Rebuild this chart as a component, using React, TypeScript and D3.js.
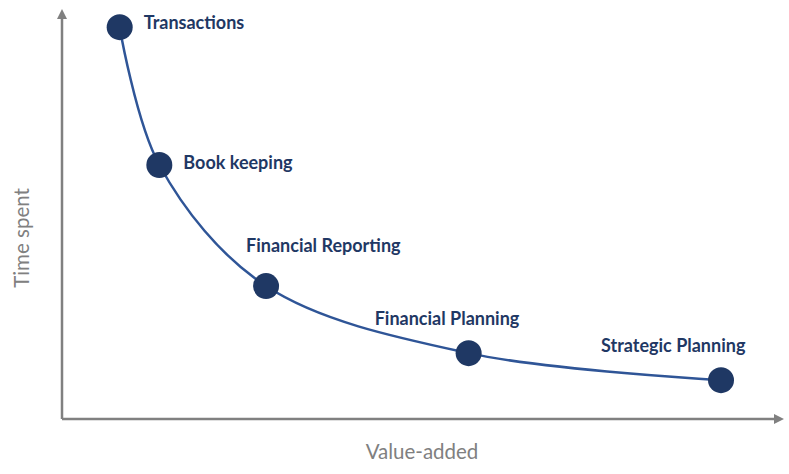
import React from "react";
import * as d3 from "d3";

const stages = ["Transactions", "Book keeping", "Financial Reporting", "Financial Planning", "Strategic Planning"];
const valueAdded = [8.0, 13.5, 28.3, 56.4, 91.4];
const timeSpent = [95.8, 62.1, 32.5, 16.1, 9.5];
const labelDx = [24, 24, -20, -94, -120];
const labelDy = [-5, -3, -41, -35, -35];

const W = 789;
const H = 474;

export default function App() {
  const x = d3.scaleLinear().domain([0, 100]).range([62, 783]);
  const y = d3.scaleLinear().domain([0, 100]).range([419, 10]);
  const pts = valueAdded.map((v, i) => [x(v), y(timeSpent[i])] as [number, number]);
  const line = d3.line().curve(d3.curveCatmullRom.alpha(0.5));
  const axisColor = "#808080";
  const dark = "#1f3864";
  return (
    <svg width={W} height={H} style={{ position: "absolute", left: 0, top: 0 }}>
      <rect width={W} height={H} fill="#fff" />
      {/* axes */}
      <line x1={x(0)} y1={y(0)} x2={x(0)} y2={y(100) + 6} stroke={axisColor} strokeWidth={2.5} />
      <path d={`M${x(0) - 5},${y(100) + 9} L${x(0)},${y(100) - 1} L${x(0) + 5},${y(100) + 9} Z`} fill={axisColor} />
      <line x1={x(0)} y1={y(0)} x2={x(100) - 6} y2={y(0)} stroke={axisColor} strokeWidth={2.5} />
      <path d={`M${x(100) - 9},${y(0) - 5} L${x(100) + 1},${y(0)} L${x(100) - 9},${y(0) + 5} Z`} fill={axisColor} />
      <text x={422} y={451} textAnchor="middle" dominantBaseline="central" fill={axisColor}
        style={{ fontFamily: "Lato, 'Open Sans', sans-serif", fontSize: 20.5 }}>Value-added</text>
      <text transform="translate(21,238) rotate(-90)" textAnchor="middle" dominantBaseline="central" fill={axisColor}
        style={{ fontFamily: "Lato, 'Open Sans', sans-serif", fontSize: 20.5 }}>Time spent</text>
      {/* curve */}
      <path d={line(pts) || ""} fill="none" stroke="#2f5597" strokeWidth={2.5} />
      {pts.map((p, i) => (
        <g key={i}>
          <circle cx={p[0]} cy={p[1]} r={13} fill={dark} />
          <text x={p[0] + labelDx[i]} y={p[1] + labelDy[i]} dominantBaseline="central" fill={dark}
            style={{ fontFamily: "Lato, 'Open Sans', sans-serif", fontSize: 18, fontWeight: 700 }}>
            {stages[i]}
          </text>
        </g>
      ))}
    </svg>
  );
}
